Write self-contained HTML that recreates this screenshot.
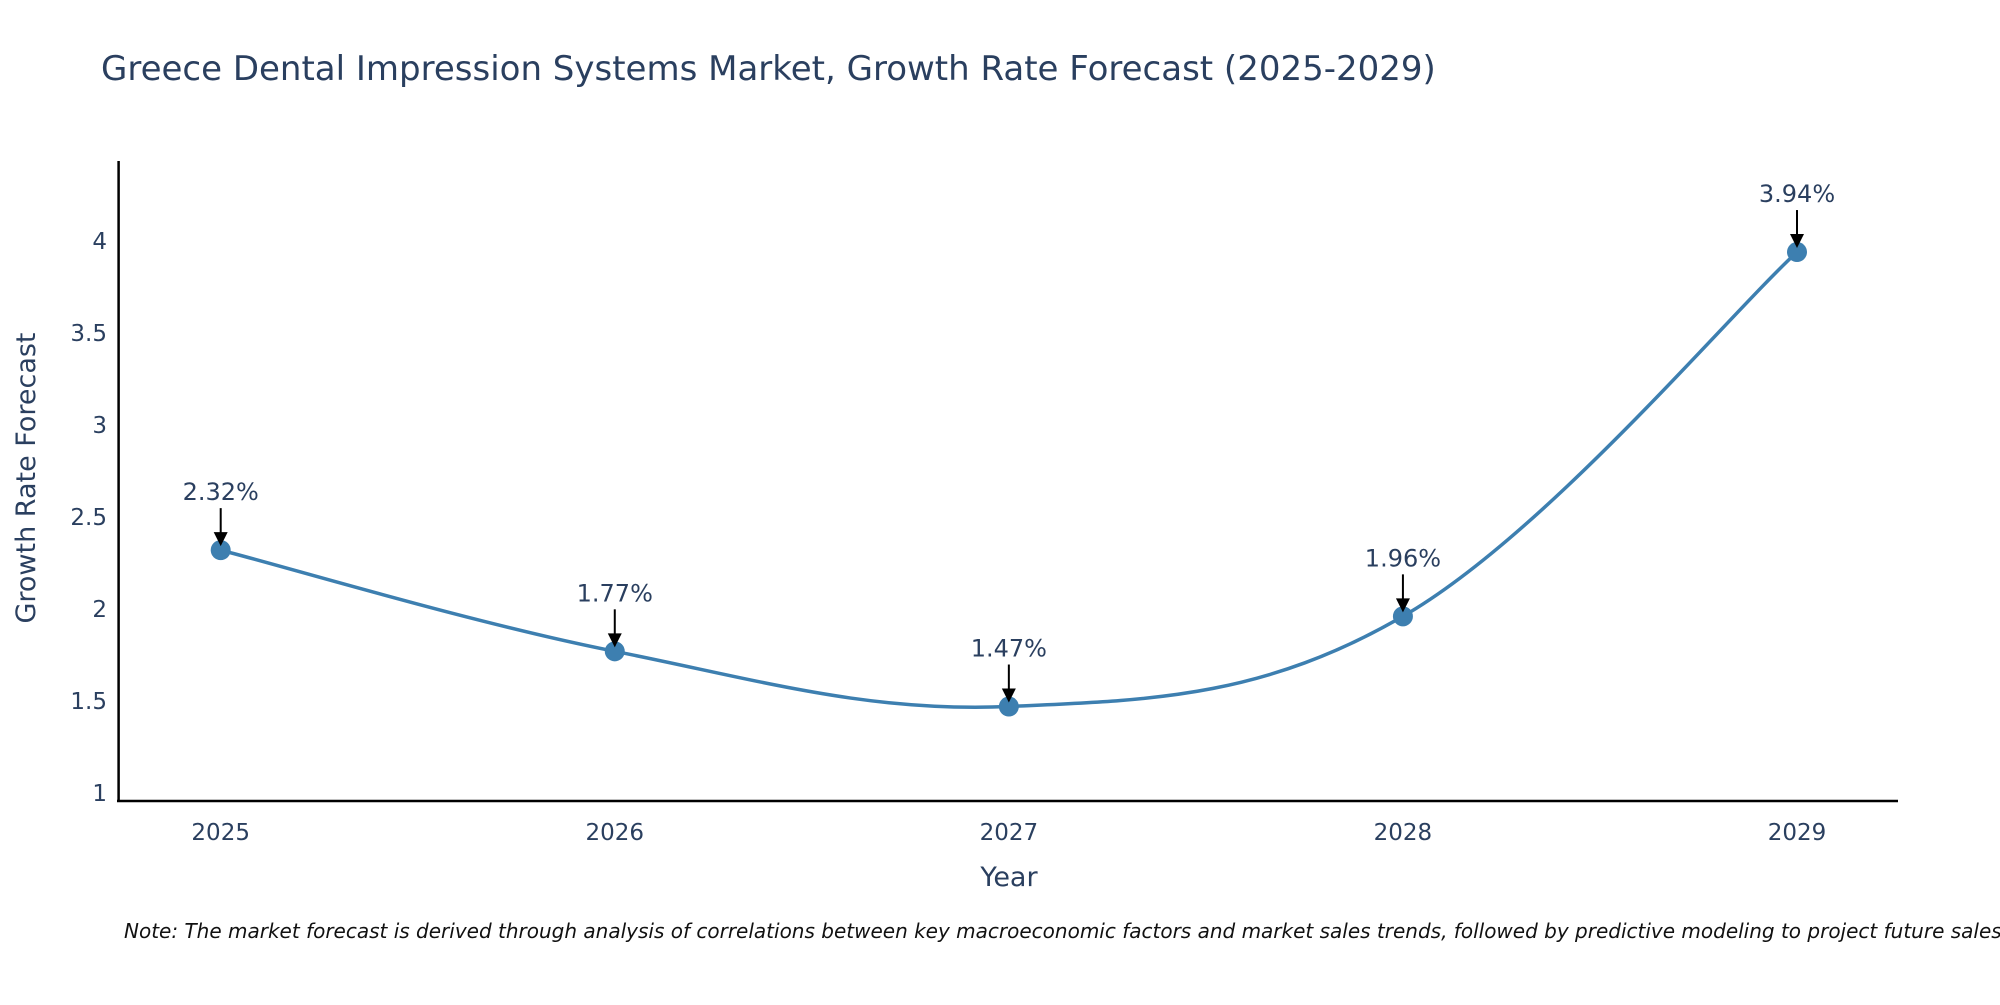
<!DOCTYPE html>
<html><head><meta charset="utf-8"><style>
body{margin:0;background:#fff;}
svg text{font-family:"DejaVu Sans","Liberation Sans",sans-serif;fill:#2a3f5f;}
</style></head><body>
<svg id="chart" width="2000" height="1000" xmlns="http://www.w3.org/2000/svg">
<text x="101" y="80" font-size="34">Greece Dental Impression Systems Market, Growth Rate Forecast (2025-2029)</text>
<g id="axes"></g>
<g id="plot"></g>
<text transform="translate(35,478) rotate(-90)" text-anchor="middle" font-size="27">Growth Rate Forecast</text>
<text x="1009" y="886" text-anchor="middle" font-size="27">Year</text>
<text x="124" y="938" font-size="20" font-style="italic" style="fill:#111">Note: The market forecast is derived through analysis of correlations between key macroeconomic factors and market sales trends, followed by predictive modeling to project future sales.</text>
</svg>
<script>
const years = [2025, 2026, 2027, 2028, 2029];
const values = [2.32, 1.77, 1.47, 1.96, 3.94];
const labels = ["2.32%", "1.77%", "1.47%", "1.96%", "3.94%"];
const yTicks = [1, 1.5, 2, 2.5, 3, 3.5, 4];
const yTickLabels = ["1", "1.5", "2", "2.5", "3", "3.5", "4"];

const NS = "http://www.w3.org/2000/svg";
const X = v => 220.7 + (v - 2025) * (1797 - 220.7) / 4;
const Y = v => 793 - (v - 1) * (793 - 241) / 3;
function mk(tag, attrs, parent){const e=document.createElementNS(NS,tag);for(const k in attrs)e.setAttribute(k,attrs[k]);parent.appendChild(e);return e;}
const axes=document.getElementById('axes'), plot=document.getElementById('plot');

let yl=mk('line',{x1:118.6,y1:161,x2:118.6,y2:802,stroke:'#000','stroke-width':2.5},axes);


let xl=mk('line',{x1:117,y1:801,x2:1898,y2:801,stroke:'#000','stroke-width':2.5},axes);



yTicks.forEach((t,i)=>{
  const e=mk('text',{x:107,y:Y(t)+8,'text-anchor':'end','font-size':23},axes);
  e.textContent=yTickLabels[i];
  
  
});
years.forEach(yr=>{
  const e=mk('text',{x:X(yr),y:840,'text-anchor':'middle','font-size':23},axes);
  e.textContent=String(yr);
  
  
});

const pts=years.map((yr,i)=>[X(yr),Y(values[i])]);
let d='M'+pts[0][0]+','+pts[0][1];
for(let i=0;i<pts.length-1;i++){
  const p0=pts[Math.max(0,i-1)],p1=pts[i],p2=pts[i+1],p3=pts[Math.min(pts.length-1,i+2)];
  const t=0.36;
  const c1=[p1[0]+(p2[0]-p0[0])*t/2,p1[1]+(p2[1]-p0[1])*t/2];
  const c2=[p2[0]-(p3[0]-p1[0])*t/2,p2[1]-(p3[1]-p1[1])*t/2];
  d+=' C'+c1+' '+c2+' '+p2;
}
const line=mk('path',{d:d,fill:'none',stroke:'#3d7fb0','stroke-width':3.5},plot);



pts.forEach((p,i)=>{
  const c=mk('circle',{cx:p[0],cy:p[1],r:10,fill:'#3d7fb0'},plot);
  
  
  const a=mk('line',{x1:p[0],y1:p[1]-42,x2:p[0],y2:p[1]-14,stroke:'#000','stroke-width':2},plot);
  
  
  const h=mk('polygon',{points:`${p[0]-7},${p[1]-18} ${p[0]+7},${p[1]-18} ${p[0]},${p[1]-4}`,fill:'#000'},plot);
  
  
  const tx=mk('text',{x:p[0],y:p[1]-50,'text-anchor':'middle','font-size':24},plot);
  tx.textContent=labels[i];
  
  
});
</script>
</body></html>
